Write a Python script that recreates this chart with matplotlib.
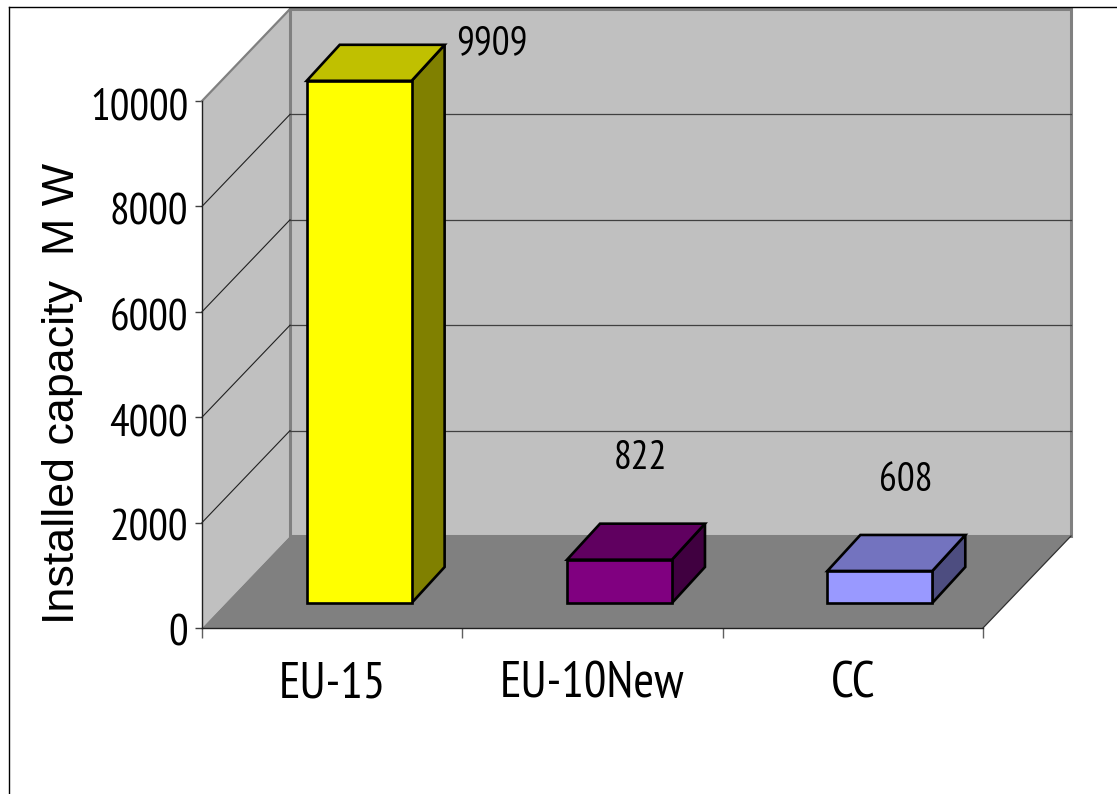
import matplotlib
matplotlib.use("Agg")
import matplotlib.pyplot as plt
from matplotlib.patches import Polygon
from matplotlib.lines import Line2D
from matplotlib.transforms import Affine2D, ScaledTranslation
from matplotlib import font_manager as fm

categories = ["EU-15", "EU-10New", "CC"]
values = [9909, 822, 608]
face_colors = ["#ffff00", "#800080", "#9999ff"]
top_colors = ["#c0c000", "#600060", "#7373bf"]
side_colors = ["#808000", "#400040", "#4d4d80"]
y_ticks = [0, 2000, 4000, 6000, 8000, 10000]
y_label = "Installed capacity  M W"

W, H = 1117, 794
DPI = 100
L, R, T, B = 202, 983, 101, 628
DX, DY = 88, 92            # wall depth, px
BAR_X, BAR_Y = 27, 25      # bar front plane offset, px
BAR_DX, BAR_DY = 33, 36    # bar depth, px
BAR_W = 0.403              # bar width, category units
LABEL_OFF = [(133, 37), (21, 101), (26, 90)]  # label centre from bar top, px

have = {f.name for f in fm.fontManager.ttflist}
narrow = [f for f in ["PT Sans Narrow", "Archivo Narrow", "Roboto Condensed",
                      "Liberation Sans", "DejaVu Sans"] if f in have]
plt.rcParams["font.family"] = [narrow[0], "DejaVu Sans"]
fig = plt.figure(figsize=(W / DPI, H / DPI), dpi=DPI, facecolor="white")
ax = fig.add_axes([L / W, 1 - B / H, (R - L) / W, (B - T) / H])
ax.set_xlim(0, len(categories))
ax.set_ylim(0, 10000)
ax.patch.set_visible(False)


def off(dx, dy):
    return ax.transData + Affine2D().translate(dx, dy)


ymax, n = 10000, len(categories)
back = off(DX, DY)
wx = DX * n / (R - L)
wy = DY * ymax / (B - T)
ax.add_patch(Polygon([(0, 0), (0, ymax), (wx, ymax + wy), (wx, wy)], closed=True,
                     fc="#c0c0c0", ec="none", clip_on=False, zorder=1))
ax.add_patch(Polygon([(0, 0), (0, ymax), (n, ymax), (n, 0)], closed=True, fc="#c0c0c0",
                     ec="#808080", lw=2.2, transform=back, clip_on=False, zorder=1))
ax.add_patch(Polygon([(0, 0), (n, 0), (n + wx, wy), (wx, wy)], closed=True,
                     fc="#808080", ec="none", clip_on=False, zorder=2))
ax.add_line(Line2D([0, wx], [ymax, ymax + wy], color="#808080", lw=1.6, clip_on=False, zorder=3))
ax.add_line(Line2D([n, n + wx], [0, wy], color="#303030", lw=0.9, clip_on=False, zorder=3))
for v in y_ticks[1:-1]:
    ax.add_line(Line2D([0, n], [v, v], transform=back, color="#404040", lw=0.9,
                       clip_on=False, zorder=3))
    ax.add_line(Line2D([0, wx], [v, v + wy], color="#202020", lw=0.8, clip_on=False, zorder=3))

sx = (R - L) / n
sy = (B - T) / ymax
for i, v in enumerate(values):
    x0, x1 = i + 0.5 - BAR_W / 2, i + 0.5 + BAR_W / 2
    ddx, ddy = BAR_DX / sx, BAR_DY / sy
    t = off(BAR_X, BAR_Y)
    kw = dict(closed=True, ec="black", lw=1.9, joinstyle="miter", transform=t, clip_on=False, zorder=5)
    ax.add_patch(Polygon([(x1, 0), (x1 + ddx, ddy), (x1 + ddx, v + ddy), (x1, v)], fc=side_colors[i], **kw))
    ax.add_patch(Polygon([(x0, v), (x0 + ddx, v + ddy), (x1 + ddx, v + ddy), (x1, v)], fc=top_colors[i], **kw))
    ax.add_patch(Polygon([(x0, 0), (x1, 0), (x1, v), (x0, v)], fc=face_colors[i], **kw))
    ox, oy = LABEL_OFF[i]
    ax.annotate(str(v), xy=(i + 0.5, v), xycoords=t, xytext=(ox * 0.72, oy * 0.72),
                textcoords="offset points", ha="center", va="center", fontsize=28.5,
                color="black", zorder=6, annotation_clip=False)

for s in ("top", "right"):
    ax.spines[s].set_visible(False)
for s in ("left", "bottom"):
    ax.spines[s].set_linewidth(1.0)
    ax.spines[s].set_color("#202020")
    ax.spines[s].set_zorder(4)
ax.set_yticks(y_ticks)
ax.set_yticklabels([str(v) for v in y_ticks], fontsize=31.5)
ax.tick_params(axis="y", length=5, width=1, color="#404040", pad=5)
shift = ScaledTranslation(0, -2.5 / DPI, fig.dpi_scale_trans)
for lab in ax.get_yticklabels():
    lab.set_transform(lab.get_transform() + shift)
ax.set_xticks(range(n + 1))
ax.set_xticklabels([])
ax.set_xticks([i + 0.5 for i in range(n)], minor=True)
ax.set_xticklabels(categories, minor=True, fontsize=36)
ax.tick_params(axis="x", which="major", length=7, width=1, color="#606060")
ax.tick_params(axis="x", which="minor", length=0, pad=24)

fig.text(63 / W, 1 - 393 / H, y_label, rotation=90, ha="center", va="center",
         fontsize=32.3, family=["Liberation Sans", "DejaVu Sans"])

fig.add_artist(Line2D([9 / W, 9 / W], [0, 1 - 7 / H], color="black", lw=1.0))
fig.add_artist(Line2D([9 / W, 1], [1 - 7 / H, 1 - 7 / H], color="black", lw=1.0))

fig.savefig("out.png", dpi=DPI, facecolor="white")
